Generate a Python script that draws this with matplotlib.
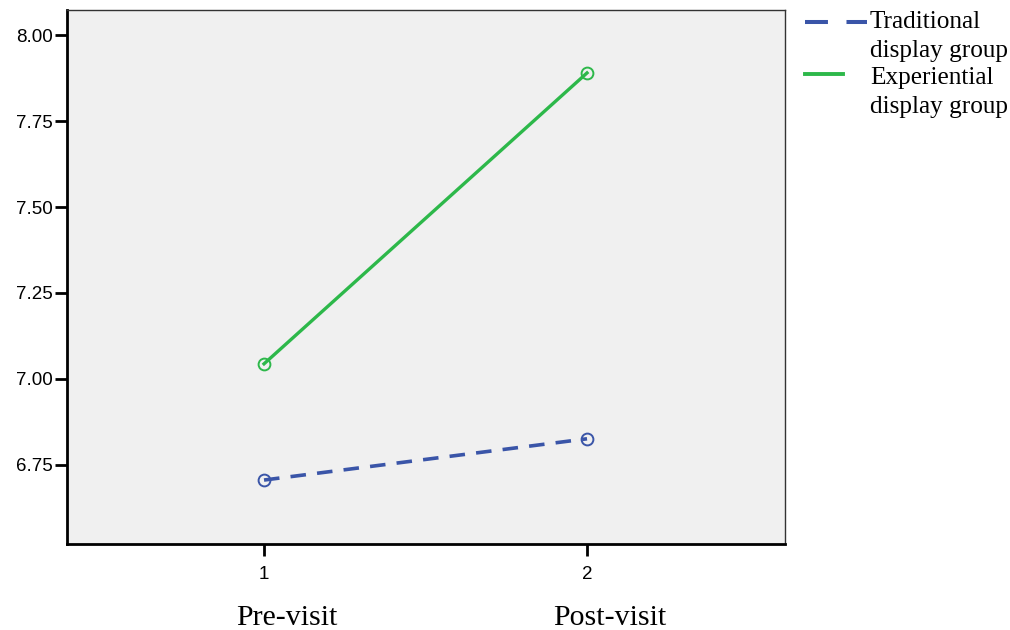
import matplotlib
matplotlib.use("Agg")
import matplotlib.pyplot as plt
from matplotlib.lines import Line2D

# Data
time_points = [1, 2]
time_labels = ["Pre-visit", "Post-visit"]
traditional = [6.706, 6.826]
experiential = [7.044, 7.89]
series_names = ["Traditional\ndisplay group", "Experiential\ndisplay group"]
yticks = [6.75, 7.00, 7.25, 7.50, 7.75, 8.00]

blue = "#3a55a8"
green = "#2db84a"

fig = plt.figure(figsize=(10.1, 6.3), dpi=100)
ax = fig.add_axes([67/1010, 1-544/630, (785-67)/1010, (544-10)/630])
ax.set_facecolor("#f0f0f0")

ax.plot(time_points, traditional, color=blue, lw=2.6, linestyle=(0, (4.3, 3.1)),
        marker="o", markersize=8.5, markerfacecolor="none", markeredgecolor=blue,
        markeredgewidth=1.4)
ax.plot(time_points, experiential, color=green, lw=2.4, linestyle="-",
        marker="o", markersize=8.5, markerfacecolor="none", markeredgecolor=green,
        markeredgewidth=1.4)

ax.set_xlim(0.39, 2.613)
ax.set_ylim(6.52, 8.073)
ax.set_xticks(time_points)
ax.set_xticklabels([str(t) for t in time_points])
ax.set_yticks(yticks)
ax.set_yticklabels([f"{v:.2f}" for v in yticks])

for s in ["left", "bottom"]:
    ax.spines[s].set_linewidth(2.0)
    ax.spines[s].set_color("black")
for s in ["top", "right"]:
    ax.spines[s].set_linewidth(1.0)
    ax.spines[s].set_color("#333333")

ax.tick_params(axis="both", direction="out", length=8.5, width=2.0, color="black",
               labelsize=13.5)
ax.tick_params(axis="y", pad=1.5)
ax.tick_params(axis="x", pad=7)
for lbl in ax.get_xticklabels() + ax.get_yticklabels():
    lbl.set_fontfamily("Liberation Sans")

# Category labels under ticks
for t, lab in zip(time_points, time_labels):
    ax.annotate(lab, xy=(t, 0), xycoords=("data", "figure fraction"),
                xytext=(23, 5), textcoords="offset pixels",
                ha="center", va="baseline", fontsize=21.5, family="Liberation Serif")

# Legend drawn manually
leg_font = dict(fontsize=18.2, family="Liberation Serif", va="center", ha="left")
fig.add_artist(Line2D([805/1010, 867/1010], [1-22/630, 1-22/630], color=blue, lw=2.9,
                      linestyle=(0, (5.7, 4.6))))
fig.text(870/1010, 1-22/630, series_names[0].split("\n")[0], **leg_font)
fig.text(870/1010, 1-51/630, series_names[0].split("\n")[1], **leg_font)
fig.add_artist(Line2D([805/1010, 843/1010], [1-74/630, 1-74/630], color=green, lw=2.8))
fig.text(870/1010, 1-78/630, series_names[1].split("\n")[0], **leg_font)
fig.text(870/1010, 1-107/630, series_names[1].split("\n")[1], **leg_font)

fig.savefig("out.png", dpi=100)
